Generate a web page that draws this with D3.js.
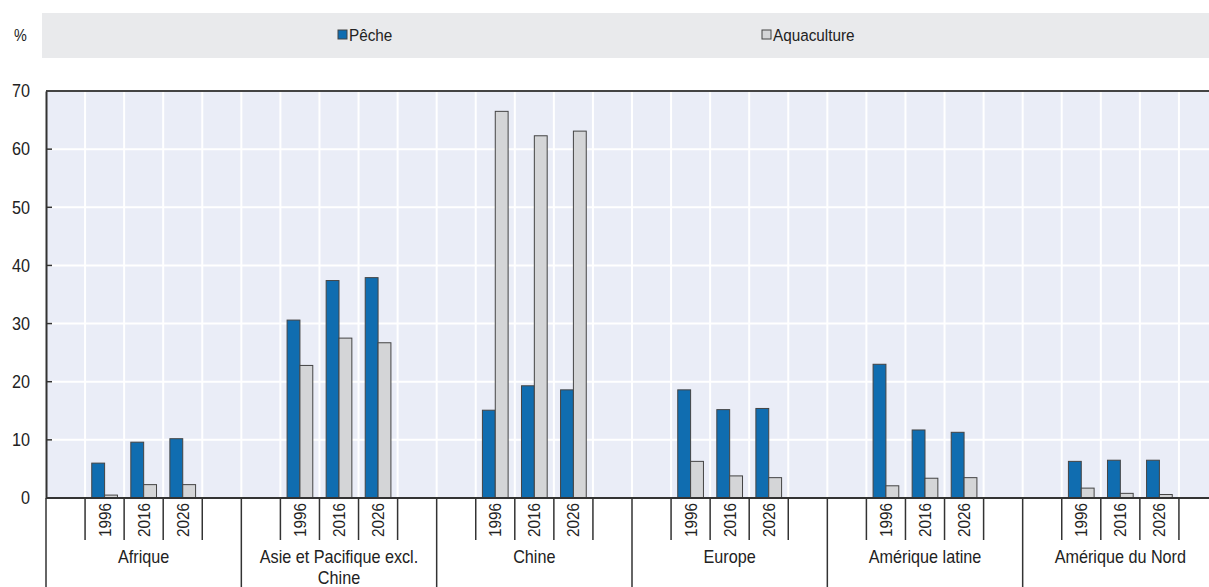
<!DOCTYPE html>
<html>
<head>
<meta charset="utf-8">
<script src="https://cdn.jsdelivr.net/npm/d3@7"></script>
<style>
  body { margin: 0; background: #fff; }
  svg text { font-family: Arial, "Liberation Sans", sans-serif; fill: #222; }
</style>
</head>
<body>
<svg id="chart"></svg>
<script>
// Regions, years and series
const regions = ['Afrique', 'Asie et Pacifique excl. Chine', 'Chine', 'Europe', 'Amérique latine', 'Amérique du Nord'];
const regionLines = [['Afrique'], ['Asie et Pacifique excl.', 'Chine'], ['Chine'], ['Europe'], ['Amérique latine'], ['Amérique du Nord']];
const years = ['1996', '2016', '2026'];
const series = ['Pêche', 'Aquaculture'];

// values per region, in year order
const peche = [
  [6.0, 9.6, 10.2],
  [30.6, 37.4, 37.9],
  [15.1, 19.3, 18.6],
  [18.6, 15.2, 15.4],
  [23.0, 11.7, 11.3],
  [6.3, 6.5, 6.5],
];
const aquaculture = [
  [0.5, 2.3, 2.3],
  [22.8, 27.5, 26.7],
  [66.5, 62.3, 63.1],
  [6.3, 3.8, 3.5],
  [2.1, 3.4, 3.5],
  [1.7, 0.8, 0.6],
];
const yTicks = [0, 10, 20, 30, 40, 50, 60, 70];

const config = {
  width: 1209,
  height: 587,
  margin: { top: 91, left: 46, bottom: 89 },
  plotRight: 1218,
  squeeze: 0.9, // the original font is a condensed sans
  colors: { 'Pêche': '#106db0', 'Aquaculture': '#d4d5d7' },
  plotBg: '#eaedf7',
  legendBg: '#e9eaec',
};

const svg = d3.select('#chart')
  .attr('width', config.width)
  .attr('height', config.height);

const plotBottom = config.height - config.margin.bottom;

// place a condensed text at x,y (optionally rotated)
function addText(parent, x, y, str, size, opts = {}) {
  const rot = opts.rotate ? ` rotate(${opts.rotate})` : '';
  return parent.append('text')
    .attr('transform', `translate(${x},${y})${rot} scale(${config.squeeze},1)`)
    .attr('text-anchor', opts.anchor || 'start')
    .attr('font-size', size)
    .text(str);
}

// Scales
const xGroup = d3.scaleBand()
  .domain(regions)
  .range([config.margin.left, config.plotRight]);

// each region has 5 slots: blank, 3 years, blank
const slots = ['pre', ...years, 'post'];
const xSlot = d3.scaleBand()
  .domain(slots)
  .range([0, xGroup.bandwidth()]);

const xSeries = d3.scaleBand()
  .domain(series)
  .range([0, xSlot.bandwidth()])
  .paddingOuter(0.52);

const yScale = d3.scaleLinear()
  .domain([0, 70])
  .range([plotBottom, config.margin.top]);

// Legend bar
svg.append('rect')
  .attr('x', 42)
  .attr('y', 13)
  .attr('width', config.width - 42)
  .attr('height', 45)
  .attr('fill', config.legendBg);

addText(svg, 14, 41, '%', 16);

const legendX = [338, 762];
series.forEach((s, i) => {
  svg.append('rect')
    .attr('x', legendX[i])
    .attr('y', 30)
    .attr('width', 9)
    .attr('height', 9)
    .attr('fill', config.colors[s])
    .attr('stroke', '#444')
    .attr('stroke-width', 1);
  addText(svg, legendX[i] + 11, 41, s, 17);
});

// Plot background
svg.append('rect')
  .attr('x', config.margin.left)
  .attr('y', config.margin.top)
  .attr('width', config.plotRight - config.margin.left)
  .attr('height', plotBottom - config.margin.top)
  .attr('fill', config.plotBg);

// Horizontal gridlines
svg.append('g')
  .selectAll('line')
  .data(yTicks.slice(1, -1))
  .join('line')
  .attr('x1', config.margin.left)
  .attr('x2', config.plotRight)
  .attr('y1', (d) => yScale(d))
  .attr('y2', (d) => yScale(d))
  .attr('stroke', '#fff')
  .attr('stroke-width', 2);

// Vertical gridlines at every slot boundary
const slotEdges = [];
regions.forEach((r) => {
  slots.forEach((s) => {
    slotEdges.push(xGroup(r) + xSlot(s) + xSlot.bandwidth());
  });
});
svg.append('g')
  .selectAll('line')
  .data(slotEdges)
  .join('line')
  .attr('x1', (d) => d)
  .attr('x2', (d) => d)
  .attr('y1', config.margin.top)
  .attr('y2', plotBottom)
  .attr('stroke', '#fff')
  .attr('stroke-width', 2);

// Bars
const barData = [];
regions.forEach((r, ri) => {
  years.forEach((y, yi) => {
    barData.push({ region: r, year: y, series: 'Pêche', value: peche[ri][yi] });
    barData.push({ region: r, year: y, series: 'Aquaculture', value: aquaculture[ri][yi] });
  });
});

svg.append('g')
  .selectAll('rect')
  .data(barData)
  .join('rect')
  .attr('x', (d) => xGroup(d.region) + xSlot(d.year) + xSeries(d.series))
  .attr('width', xSeries.bandwidth())
  .attr('y', (d) => yScale(d.value))
  .attr('height', (d) => yScale(0) - yScale(d.value))
  .attr('fill', (d) => config.colors[d.series])
  .attr('stroke', '#444')
  .attr('stroke-width', 1);

// Top border
svg.append('line')
  .attr('x1', config.margin.left)
  .attr('x2', config.plotRight)
  .attr('y1', config.margin.top)
  .attr('y2', config.margin.top)
  .attr('stroke', '#444')
  .attr('stroke-width', 2);

// Y axis
const yAxis = d3.axisLeft(yScale)
  .tickValues(yTicks)
  .tickSize(0)
  .tickPadding(16);

const yAxisG = svg.append('g')
  .attr('transform', `translate(${config.margin.left},0)`)
  .call(yAxis);
yAxisG.select('.domain').attr('stroke', '#333').attr('stroke-width', 2);
yAxisG.selectAll('text')
  .attr('font-size', 18)
  .attr('fill', '#222')
  .attr('font-family', null)
  .attr('x', -16 / config.squeeze)
  .attr('transform', `scale(${config.squeeze},1)`);

// inward ticks
svg.append('g')
  .selectAll('line')
  .data(yTicks.slice(1, -1))
  .join('line')
  .attr('x1', config.margin.left)
  .attr('x2', config.margin.left + 6)
  .attr('y1', (d) => yScale(d))
  .attr('y2', (d) => yScale(d))
  .attr('stroke', '#333')
  .attr('stroke-width', 1.5);

// X axis baseline
svg.append('line')
  .attr('x1', config.margin.left)
  .attr('x2', config.plotRight)
  .attr('y1', yScale(0))
  .attr('y2', yScale(0))
  .attr('stroke', '#333')
  .attr('stroke-width', 2);

// Year cell separators and year labels
const xAxisG = svg.append('g');
regions.forEach((r) => {
  const g0 = xGroup(r);
  const edges = [g0 + xSlot(years[0])].concat(years.map((y) => g0 + xSlot(y) + xSlot.bandwidth()));
  xAxisG.selectAll(null)
    .data(edges)
    .join('line')
    .attr('x1', (d) => d)
    .attr('x2', (d) => d)
    .attr('y1', plotBottom)
    .attr('y2', plotBottom + 42)
    .attr('stroke', '#333')
    .attr('stroke-width', 1.5);

  years.forEach((y) => {
    addText(xAxisG, g0 + xSlot(y) + xSlot.bandwidth() / 2 + 6, plotBottom + 5, y, 17, { rotate: -90, anchor: 'end' });
  });
});

// Group separators
xAxisG.selectAll(null)
  .data(regions.map((r) => xGroup(r)).concat([config.plotRight]))
  .join('line')
  .attr('x1', (d) => d)
  .attr('x2', (d) => d)
  .attr('y1', plotBottom)
  .attr('y2', config.height)
  .attr('stroke', '#333')
  .attr('stroke-width', 1.5);

// Group labels
regions.forEach((r, i) => {
  const cx = xGroup(r) + xGroup.bandwidth() / 2;
  regionLines[i].forEach((line, li) => {
    addText(xAxisG, cx, plotBottom + 65 + li * 21, line, 18, { anchor: 'middle' });
  });
});
</script>
</body>
</html>
